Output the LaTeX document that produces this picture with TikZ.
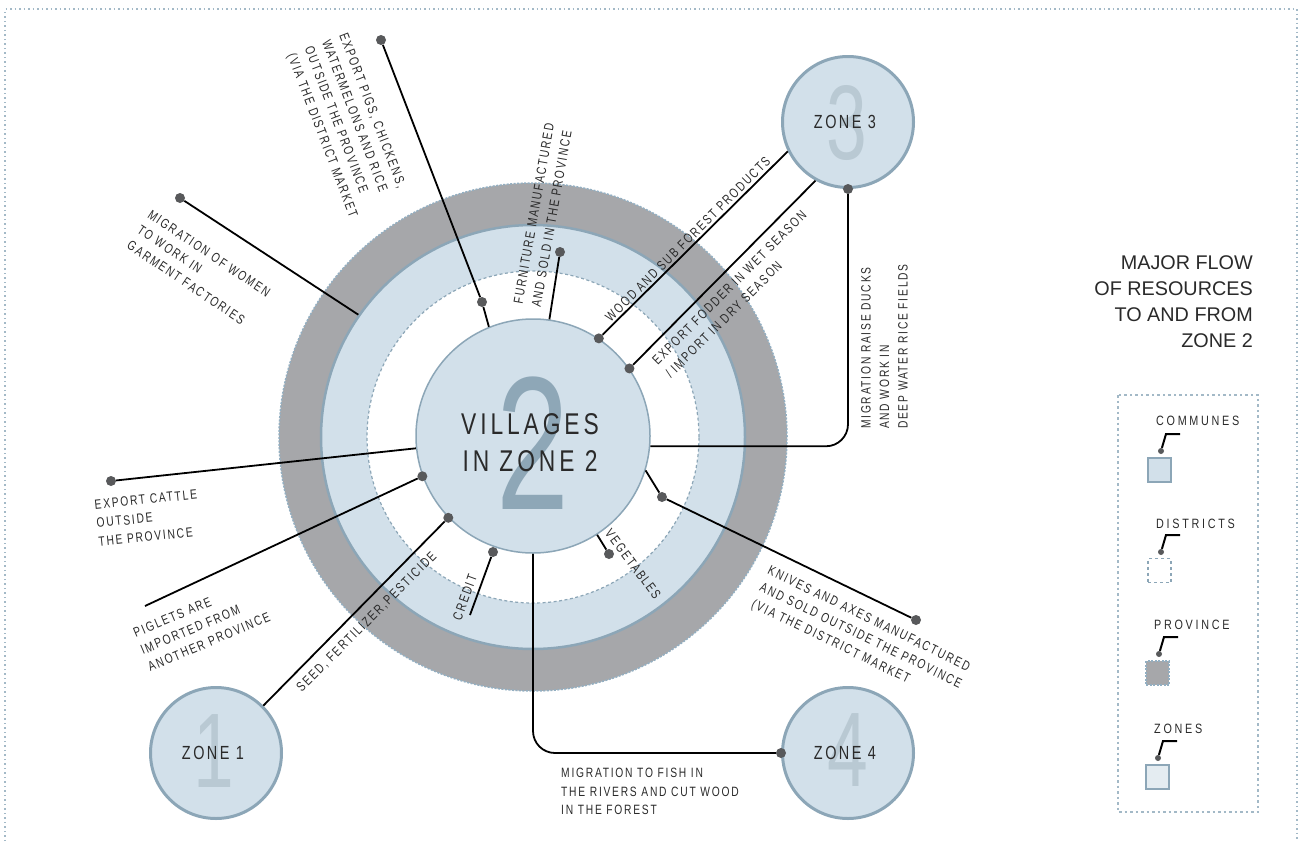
\documentclass[tikz,border=0pt]{standalone}
\usepackage{fontspec}
\setmainfont{Liberation Sans}
\newfontfamily\condfont[FakeStretch=0.76,LetterSpace=13]{Liberation Sans}
\newfontfamily\legfontfam[FakeStretch=0.8,LetterSpace=20]{Liberation Sans}
\newfontfamily\numfont[FakeStretch=0.69]{Liberation Sans}
\newcommand\lblfont{\condfont\fontsize{13.5}{18.5}\selectfont}
\newcommand\vilfont{\condfont\fontsize{30}{37}\selectfont}
\newcommand\zonefont{\condfont\fontsize{19}{22}\selectfont}
\newcommand\legfont{\legfontfam\fontsize{13.5}{16}\selectfont}
\newcommand\titfont{\fontsize{19.8}{26.3}\selectfont}
\newcommand\bignum{\numfont\fontsize{190}{190}\selectfont}
\newcommand\znumfont{\numfont\fontsize{106}{106}\selectfont}
\definecolor{lblue}{HTML}{D2E0EA}
\definecolor{edge}{HTML}{8CA6B7}
\definecolor{provgrey}{HTML}{A6A7AA}
\definecolor{provedge}{HTML}{93AFC2}
\definecolor{dotc}{HTML}{58595B}
\definecolor{numc}{HTML}{8EA7B7}
\definecolor{znumc}{HTML}{B9C9D3}
\definecolor{txt}{HTML}{2A2A2A}
\definecolor{framec}{HTML}{A3B9C7}
\definecolor{zonesq}{HTML}{E4ECF1}
\tikzset{
  lbl/.style={font=\lblfont, text=txt, inner sep=0pt, align=left, anchor=north west},
  dotn/.style={circle, fill=dotc, inner sep=0pt, minimum size=10pt},
  ldot/.style={circle, fill=dotc, inner sep=0pt, minimum size=6pt},
  conn/.style={line width=1.8pt, draw=black},
  zone/.style={circle, draw=edge, line width=3pt, fill=lblue, minimum size=131pt, inner sep=0pt},
  znum/.style={font=\znumfont, text=znumc, inner sep=0pt},
  zlbl/.style={font=\zonefont, text=txt, inner sep=0pt},
  legl/.style={font=\legfont, text=txt, inner sep=0pt, anchor=west},
  legsq/.style={minimum width=23pt, minimum height=24pt, inner sep=0pt},
  framel/.style={draw=framec, line width=1.5pt, dash pattern=on 1.5pt off 3pt},
}
\begin{document}
\begin{tikzpicture}[x=1pt,y=-1pt]
\useasboundingbox (0,0) rectangle (1307,841);
% frame
\draw[framel] (5,841) -- (5,9) -- (1297,9) -- (1297,841);
% rings
\node[circle, minimum size=508pt, inner sep=0pt, fill=provgrey, draw=provedge, line width=1.5pt, dash pattern=on 2pt off 1.5pt] (pr) at (533,437) {};
\node[circle, minimum size=424pt, inner sep=0pt, fill=lblue, draw=edge, line width=2.5pt] (cm) at (533,437) {};
\node[circle, minimum size=332pt, inner sep=0pt, fill=white, draw=edge, line width=1.2pt, dash pattern=on 3pt off 2.5pt] (ds) at (533,437) {};
\node[circle, minimum size=234pt, inner sep=0pt, fill=lblue, draw=edge, line width=1.5pt] (v) at (533,436) {};
\node[font=\bignum, text=numc, inner sep=0pt] (n2) at (533,443) {2};
\node[font=\vilfont, text=txt, inner sep=0pt, align=center] (vt) at (530,443) {VILLAGES\\IN ZONE 2};
% zones
\node[zone] (z1) at (216,753) {};
\node[znum] (z1n) at (214,751) {1};
\node[zlbl] (z1l) at (213,753) {ZONE 1};
\node[zone] (z3) at (848,122) {};
\node[znum] (z3n) at (847,123) {3};
\node[zlbl] (z3l) at (845,122) {ZONE 3};
\node[zone] (z4) at (848,753) {};
\node[znum] (z4n) at (848,750) {4};
\node[zlbl] (z4l) at (845,753) {ZONE 4};
% dots
\node[dotn] (pd1) at (381,40) {};
\node[dotn] (pd2) at (482,302) {};
\node[dotn] (wm) at (180,198) {};
\node[dotn] (fu) at (560,252) {};
\node[dotn] (wd) at (v.56) {};
\node[dotn] (fo) at (v.35) {};
\node[dotn] (dk) at (z3.south) {};
\node[dotn] (ct) at (111,481) {};
\node[dotn] (pg) at (v.200) {};
\node[dotn] (sd) at (v.224) {};
\node[dotn] (cr) at (493,552) {};
\node[dotn] (vg) at (609,554) {};
\node[dotn] (kn1) at (662,497) {};
\node[dotn] (kn2) at (916,620) {};
\node[dotn] (fi) at (z4.west) {};
\coordinate (pg0) at (145,606);
\coordinate (cr0) at (470,615);
% connectors
\draw[conn] (pd1) -- (pd2) -- (v.112.7);
\draw[conn] (wm) -- (cm.145.8);
\draw[conn] (fu) -- (v.82);
\draw[conn] (z3.206) -- (wd);
\draw[conn] (z3.241.5) -- (fo);
\draw[conn, rounded corners=22pt] (dk) |- (v.-5);
\draw[conn] (ct) -- (v.186);
\draw[conn] (pg0) -- (pg);
\draw[conn] (z1.45) -- (sd);
\draw[conn] (cr0) -- (cr);
\draw[conn] (v.-57.5) -- (vg);
\draw[conn] (v.-17.8) -- (kn1) -- (kn2);
\draw[conn, rounded corners=22pt] (v.south) |- (fi);
% labels
\node[lbl, rotate=-69] (tpigs) at (348,32) {EXPORT PIGS, CHICKENS,\\WATERMELONS AND RICE\\OUTSIDE THE PROVINCE\\(VIA THE DISTRICT MARKET};
\node[lbl, rotate=-34] (twomen) at (152,209) {MIGRATION OF WOMEN\\TO WORK IN\\GARMENT FACTORIES};
\node[lbl, rotate=80] (tfurn) at (513,303) {FURNITURE MANUFACTURED\\AND SOLD IN THE PROVINCE};
\node[lbl, rotate=45] (twood) at (604,316) {WOOD AND SUB FOREST PRODUCTS};
\node[lbl, rotate=45] (tfod) at (651,359) {EXPORT FODDER IN WET SEASON\\/ IMPORT IN DRY SEASON};
\node[lbl, rotate=90] (tduck) at (861,429) {MIGRATION RAISE DUCKS\\AND WORK IN\\DEEP WATER RICE FIELDS};
\node[lbl, rotate=6] (tcat) at (94,500) {EXPORT CATTLE\\OUTSIDE\\THE PROVINCE};
\node[lbl, rotate=23] (tpig) at (132,629) {PIGLETS ARE\\IMPORTED FROM\\ANOTHER PROVINCE};
\node[lbl, rotate=45] (tseed) at (295,686) {SEED, FERTILIZER,PESTICIDE};
\node[lbl, rotate=70] (tcred) at (452,618) {CREDIT};
\node[lbl, rotate=-53] (tveg) at (612,528) {VEGETABLES};
\node[lbl, rotate=-26] (tknif) at (771,565) {KNIVES AND AXES MANUFACTURED\\AND SOLD OUTSIDE THE PROVINCE\\(VIA THE DISTRICT MARKET};
\node[lbl] (tfish) at (561,768) {MIGRATION TO FISH IN\\THE RIVERS AND CUT WOOD\\IN THE FOREST};
% legend
\node[font=\titfont, text=txt, inner sep=0pt, align=right, anchor=north east] (title) at (1253,255) {MAJOR FLOW\\OF RESOURCES\\TO AND FROM\\ZONE 2};
\draw[framel, dash pattern=on 2.5pt off 3pt] (1118,395) rectangle (1258,812);
\node[legsq, fill=lblue, draw=edge, line width=1.5pt] (lsq1) at (1159.5,470) {};
\node[legsq, fill=white, draw=edge, line width=1.5pt, dash pattern=on 3pt off 3pt] (lsq2) at (1159.5,570.5) {};
\node[legsq, fill=provgrey, draw=provedge, line width=1.5pt, dash pattern=on 2pt off 1.5pt] (lsq3) at (1157.5,673) {};
\node[legsq, fill=zonesq, draw=edge, line width=2.5pt] (lsq4) at (1157.5,777) {};
\node[legl] (ll1) at (1156,421) {COMMUNES};
\node[legl] (ll2) at (1156,524) {DISTRICTS};
\node[legl] (ll3) at (1154,625) {PROVINCE};
\node[legl] (ll4) at (1154,729) {ZONES};
\node[ldot] (ld1) at (1161,451) {};
\node[ldot] (ld2) at (1161,552) {};
\node[ldot] (ld3) at (1159,654) {};
\node[ldot] (ld4) at (1158,758) {};
\coordinate (lb1) at (1166,434); \coordinate (le1) at (1180,434);
\coordinate (lb2) at (1166,535); \coordinate (le2) at (1180,535);
\coordinate (lb3) at (1164,637); \coordinate (le3) at (1178,637);
\coordinate (lb4) at (1163,741); \coordinate (le4) at (1177,741);
\draw[line width=2pt] (ld1) -- (lb1) -- (le1);
\draw[line width=2pt] (ld2) -- (lb2) -- (le2);
\draw[line width=2pt] (ld3) -- (lb3) -- (le3);
\draw[line width=2pt] (ld4) -- (lb4) -- (le4);
\end{tikzpicture}
\end{document}
